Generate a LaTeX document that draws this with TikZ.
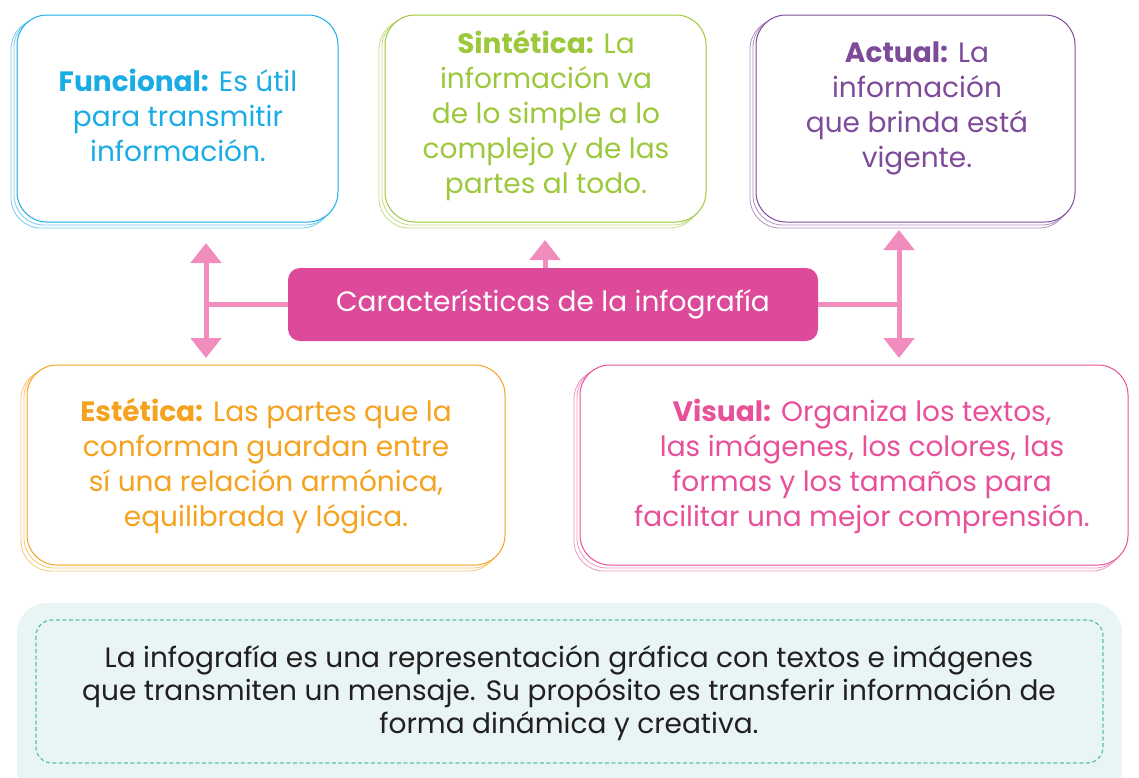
\documentclass[tikz,border=0pt]{standalone}
\usepackage{fontspec}
\setmainfont{Poppins}
\usetikzlibrary{arrows.meta}
\definecolor{cfun}{HTML}{1AACE4}
\definecolor{csin}{HTML}{9CC83C}
\definecolor{cact}{HTML}{7E4A9A}
\definecolor{cest}{HTML}{F5A21E}
\definecolor{cvis}{HTML}{E8509A}
\definecolor{ccen}{HTML}{DD4A99}
\definecolor{cconn}{HTML}{F08DBE}
\definecolor{cpanel}{HTML}{E8F5F4}
\definecolor{cdash}{HTML}{5BC2B0}
\definecolor{ctext}{HTML}{231F20}
\tikzset{
  card/.style={draw=#1, line width=1pt, fill=white, rounded corners=30pt, inner sep=0pt},
  ghost/.style={draw=#1!60, line width=0.8pt, fill=white, rounded corners=30pt},
  cardtext/.style={text=#1, align=center, font=\fontsize{28}{35}\selectfont, inner sep=0pt},
  conn/.style={draw=cconn, line width=5pt},
  tip/.style={-{Triangle[width=30pt,length=20pt]}},
}
\newcommand{\cardbox}[6]{% name, color, x1, y1, x2, y2
  \draw[ghost=#2] (#3-6,#4+4) rectangle (#5-6,#6+6);
  \draw[ghost=#2] (#3-3,#4+2) rectangle (#5-3,#6+3);
  \path[card=#2] (#3,#4) rectangle (#5,#6) coordinate (#1);
}
\begin{document}
\begin{tikzpicture}[x=1pt,y=-1pt]
\useasboundingbox (0,0) rectangle (1139,777);
% cards
\cardbox{fb}{cfun}{17}{15}{338}{222}
\cardbox{sb}{csin}{385}{15}{706}{222}
\cardbox{ab}{cact}{756}{15}{1075}{222}
\cardbox{eb}{cest}{27}{365}{505}{565}
\cardbox{vb}{cvis}{580}{365}{1128}{565}

\node[cardtext=cfun] (ft) at (178,115) {\textbf{Funcional:} Es útil\\para transmitir\\información.};
\node[cardtext=csin] (st) at (546,115) {\textbf{Sintética:} La\\información va\\de lo simple a lo\\complejo y de las\\partes al todo.};
\node[cardtext=cact] (at) at (917,108) {\textbf{Actual:} La\\información\\que brinda está\\vigente.};
\node[cardtext=cest] (et) at (266,466) {\textbf{Estética:} Las partes que la\\conforman guardan entre\\sí una relación armónica,\\equilibrada y lógica.};
\node[cardtext=cvis] (vt) at (862,466) {\textbf{Visual:} Organiza los textos,\\las imágenes, los colores, las\\formas y los tamaños para\\facilitar una mejor comprensión.};

% center
\node[fill=ccen, rounded corners=12pt, minimum width=530pt, minimum height=73pt, text=white, font=\fontsize{28}{30}\selectfont] (c) at (553,304.5) {Características de la infografía};

\coordinate (lt) at (206,243);
\coordinate (lb) at (206,358);
\coordinate (mt) at (545,240);
\coordinate (rt) at (899,230);
\coordinate (rb) at (899,358);
\draw[conn,{Triangle[width=30pt,length=20pt]}-{Triangle[width=30pt,length=20pt]}] (lt) -- (lb);
\draw[conn,{Triangle[width=30pt,length=20pt]}-{Triangle[width=30pt,length=20pt]}] (rt) -- (rb);
\draw[conn] (c.west) -- (c.west -| lt);
\draw[conn] (c.east) -- (c.east -| rt);
\draw[conn,tip] (mt |- c.north) -- (mt);

% bottom panel
\fill[cpanel] (17,603) [rounded corners=30pt] rectangle (1122,800);
\draw[cdash, line width=1.2pt, dashed, dash pattern=on 4pt off 2.5pt, rounded corners=16pt] (36,620) rectangle (1103,763);
\node[text=ctext, align=center, font=\fontsize{28}{33}\selectfont] (bt) at (569,693) {La infografía es una representación gráfica con textos e imágenes\\que transmiten un mensaje. Su propósito es transferir información de\\forma dinámica y creativa.};
\end{tikzpicture}
\end{document}
